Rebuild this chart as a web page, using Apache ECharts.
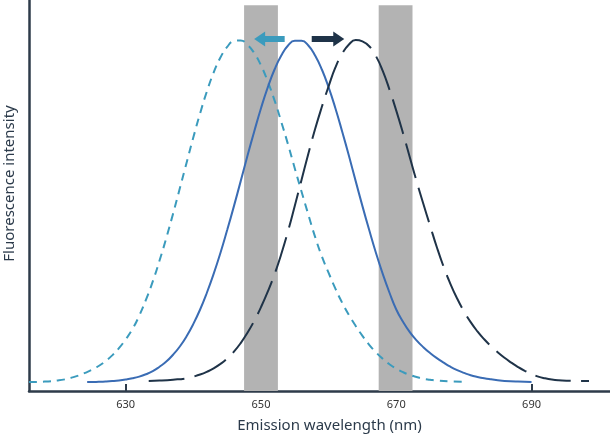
<!DOCTYPE html>
<html>
<head>
<meta charset="utf-8">
<script src="https://cdn.jsdelivr.net/npm/echarts@6/dist/echarts.min.js"></script>
<style>html,body{margin:0;padding:0;background:#fff}#c{width:610px;height:437px}</style>
</head>
<body>
<div id="c"></div>
<script>
// Tick labels on the x axis
const xTicks = [630, 650, 670, 690];
// Filter bands (nm)
const bands = [[647.5, 652.5], [667.4, 672.4]];

// Teal short-dashed curve (blue-shifted)
const tealX = [615.7,618,620,621,622,623,624,625,626,627,628,629,630,631,632,633,634,635,636,637,638,639,640,641,642,643,644,645,646,647,648,649,650,651,652,653,654,655,656,657,658,659,660,661,662,663,664,665,666,667,668,669,670,671,672,673,674,675,676,678,680.5];
const tealY = [0.1,0.25,0.6,0.9,1.4,2.0,2.8,3.7,4.8,6.2,7.9,10.0,12.6,15.6,19.5,24.2,29.5,35.6,42.2,49.3,56.7,64.2,71.6,78.6,85.0,90.5,94.9,98.0,99.7,99.9,98.6,96.2,92.6,87.9,82.4,76.1,69.5,62.5,55.7,49.0,42.5,36.8,32.0,27.4,23.3,19.7,16.5,13.6,11.0,8.8,6.9,5.3,4.0,3.0,2.2,1.6,1.1,0.8,0.55,0.3,0.2];

// Blue solid curve (reference)
const blueX = [624.3,625,626,627,628,629,630,631,632,633,634,635,636,637,638,639,640,641,642,643,644,645,646,647,648,649,650,651,652,653,654,655,656,657,658,659,660,661,662,663,664,665,666,667,668,669,670,671,672,673,674,675,676,677,678,679,680,681,682,683,684,685,686,688,690];
const blueY = [0.1,0.1,0.17,0.26,0.39,0.57,0.84,1.2,1.7,2.4,3.3,4.6,6.1,8.1,10.5,13.5,17.1,21.3,26.2,31.7,37.8,44.5,51.5,58.8,66.2,73.3,80.1,86.2,91.4,95.5,98.4,99.8,99.8,98.4,95.5,91.4,86.2,80.1,73.3,66.2,58.8,51.5,44.5,37.8,31.7,26.2,21.3,17.7,14.7,12.3,10.3,8.6,7.1,5.8,4.6,3.6,2.8,2.1,1.6,1.2,0.9,0.65,0.45,0.25,0.15];

// Navy long-dashed curve (red-shifted)
const navyX = [633.4,635,637,639,640,641,642,643,644,645,646,647,648,649,650,651,652,653,654,655,656,657,658,659,660,661,662,663,664,665,666,667,668,669,670,671,672,673,674,675,676,677,678,679,680,681,682,683,684,685,686,687,688,689,690,691,692,693,694,696,698.5];
const navyY = [0.45,0.55,0.8,1.2,1.7,2.3,3.1,4.1,5.4,7.0,9.0,11.5,14.5,18.0,22.0,26.5,31.6,37.5,44.2,51.6,59.2,66.8,74.0,80.5,86.5,92.0,96.0,98.7,100,99.6,98.2,95.3,91.0,85.5,79.4,72.8,65.8,58.8,52.2,45.8,39.5,33.8,28.8,24.5,20.8,17.6,14.9,12.6,10.6,8.8,7.2,5.8,4.5,3.4,2.5,1.7,1.2,0.85,0.65,0.45,0.4];

// Shift arrows: [fromX, toX, y]
const tealArrow = [653.5, 649.8, 100.3];
const navyArrow = [657.5, 661.5, 100.3];

const pairs = (xs, ys) => xs.map((x, i) => [x, ys[i]]);
const FONT = 'Noto Sans';
const AX = '#2e3b4a';

const chart = echarts.init(document.getElementById('c'), null, {renderer: 'canvas'});
chart.setOption({
  animation: false,
  grid: {left: 29, right: 0, top: 0, bottom: 46, containLabel: false, outerBoundsMode: 'none'},
  xAxis: {
    type: 'value', min: 615.7, max: 701.6,
    name: 'Emission wavelength (nm)', nameLocation: 'middle', nameGap: 27,
    nameTextStyle: {fontFamily: FONT, fontSize: 15, color: '#2b3a4a', padding: [0, 0, 0, 20]},
    axisLine: {show: true, onZero: false, lineStyle: {color: AX, width: 2.5}},
    axisTick: {show: true, inside: true, length: 7, lineStyle: {color: AX, width: 2}, customValues: xTicks},
    axisLabel: {fontFamily: FONT, fontSize: 11, color: '#333', margin: 8, customValues: xTicks},
    splitLine: {show: false}
  },
  yAxis: {
    type: 'value', min: -2.5, max: 111.7,
    name: 'Fluorescence intensity', nameLocation: 'middle', nameGap: 12,
    nameTextStyle: {fontFamily: FONT, fontSize: 15, color: '#2b3a4a', padding: [0, 0, 0, 24]},
    axisLine: {show: true, onZero: false, lineStyle: {color: AX, width: 2.5}},
    axisTick: {show: false}, axisLabel: {show: false}, splitLine: {show: false}
  },
  series: [
    {
      type: 'line', name: 'bands', data: [], silent: true,
      markArea: {
        silent: true,
        itemStyle: {color: '#b3b3b3'},
        data: bands.map(b => [{xAxis: b[0], yAxis: -2.5}, {xAxis: b[1], yAxis: 110.2}])
      }
    },
    {
      type: 'line', name: 'teal', data: pairs(tealX, tealY), smooth: true, showSymbol: false,
      lineStyle: {color: '#3b9bbd', width: 2, type: [8, 6]}, z: 3
    },
    {
      type: 'line', name: 'blue', data: pairs(blueX, blueY), smooth: true, showSymbol: false,
      lineStyle: {color: '#3a6cb4', width: 2}, z: 3
    },
    {
      type: 'line', name: 'navy', data: pairs(navyX, navyY), smooth: true, showSymbol: false,
      lineStyle: {color: '#1f3348', width: 2, type: [36, 10]}, z: 3
    },
    {
      type: 'line', name: 'arrows', data: [], silent: true, z: 4,
      markLine: {
        silent: true, animation: false,
        symbol: ['none', 'triangle'], symbolSize: [15, 11],
        label: {show: false},
        data: [
          [{coord: [tealArrow[0], tealArrow[2]], lineStyle: {color: '#3b9bbd', width: 6, type: 'solid'}, itemStyle: {color: '#3b9bbd'}},
           {coord: [tealArrow[1], tealArrow[2]]}],
          [{coord: [navyArrow[0], navyArrow[2]], lineStyle: {color: '#1f3348', width: 6, type: 'solid'}, itemStyle: {color: '#1f3348'}},
           {coord: [navyArrow[1], navyArrow[2]]}]
        ]
      }
    }
  ]
});
</script>
</body>
</html>
